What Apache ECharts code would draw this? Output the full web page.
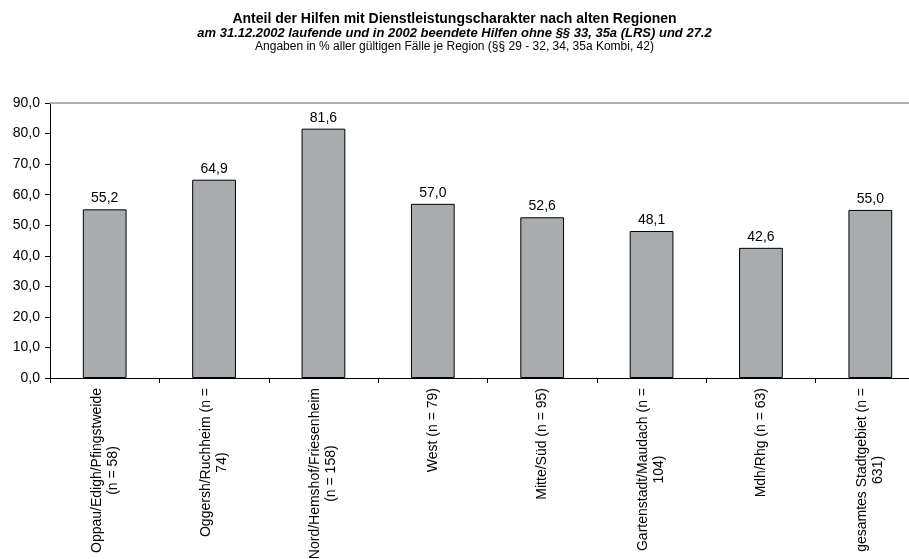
<!DOCTYPE html>
<html>
<head>
<meta charset="utf-8">
<script src="https://cdn.jsdelivr.net/npm/echarts@6/dist/echarts.min.js"></script>
<style>
html,body{margin:0;padding:0;background:#fff;}
#c{width:909px;height:559px;}
</style>
</head>
<body>
<div id="c"></div>
<script>
const categories = [
  "Oppau/Edigh/Pfingstweide\n(n = 58)",
  "Oggersh/Ruchheim (n =\n74)",
  "Nord/Hemshof/Friesenheim\n(n = 158)",
  "West (n = 79)",
  "Mitte/Süd (n = 95)",
  "Gartenstadt/Maudach (n =\n104)",
  "Mdh/Rhg (n = 63)",
  "gesamtes Stadtgebiet (n =\n631)"
];
const values = [55.2, 64.9, 81.6, 57.0, 52.6, 48.1, 42.6, 55.0];
const yTicks = [0, 10, 20, 30, 40, 50, 60, 70, 80, 90];

const fmt = v => Number(v).toFixed(1).replace('.', ',');
const font = "Liberation Sans, Arial, sans-serif";

const chart = echarts.init(document.getElementById('c'));
chart.setOption({
  animation: false,
  backgroundColor: '#fff',
  title: [
    {text: 'Anteil der Hilfen mit Dienstleistungscharakter nach alten Regionen', left: 'center', top: 7,
     textStyle: {fontFamily: font, fontSize: 14, fontWeight: 'bold', color: '#000'}},
    {text: 'am 31.12.2002 laufende und in 2002 beendete Hilfen ohne §§ 33, 35a (LRS) und 27.2', left: 'center', top: 22,
     textStyle: {fontFamily: font, fontSize: 13, fontWeight: 'bold', fontStyle: 'italic', color: '#000'}},
    {text: 'Angaben in % aller gültigen Fälle je Region (§§ 29 - 32, 34, 35a Kombi, 42)', left: 'center', top: 36,
     textStyle: {fontFamily: font, fontSize: 12, fontWeight: 'normal', color: '#000'}}
  ],
  grid: {left: 50, top: 103, width: 875, height: 275, outerBoundsMode: 'none', containLabel: false},
  xAxis: [{
    type: 'category',
    data: categories,
    boundaryGap: true,
    axisLine: {lineStyle: {color: '#000', width: 1}},
    axisTick: {show: true, length: 5, alignWithLabel: false, lineStyle: {color: '#000'}},
    axisLabel: {
      interval: 0, rotate: 90, margin: 10,
      fontFamily: font, fontSize: 14, color: '#000', lineHeight: 16,
      formatter: v => v.split('\n').map(s => '{c|' + s + '}').join('\n'),
      rich: {c: {align: 'center', fontFamily: font, fontSize: 14, color: '#000', lineHeight: 16}}
    }
  }, {
    type: 'category',
    position: 'top',
    data: categories,
    axisLine: {show: true, lineStyle: {color: '#b0b0b0', width: 2}},
    axisTick: {show: false},
    axisLabel: {show: false}
  }],
  yAxis: {
    type: 'value',
    min: 0, max: 90, interval: 10,
    axisLine: {show: true, lineStyle: {color: '#000', width: 1}},
    axisTick: {show: true, length: 5, inside: false, lineStyle: {color: '#000'}},
    splitLine: {show: false},
    axisLabel: {fontFamily: font, fontSize: 14, color: '#000', margin: 10,
      formatter: v => yTicks.includes(v) ? fmt(v) : ''}
  },
  series: [{
    type: 'bar',
    data: values,
    barWidth: '40%',
    itemStyle: {color: '#a9acaf', borderColor: '#000', borderWidth: 1},
    label: {show: true, position: 'top', distance: 4, fontFamily: font, fontSize: 14, color: '#000',
      formatter: p => fmt(p.value)}
  }]
});
</script>
</body>
</html>
